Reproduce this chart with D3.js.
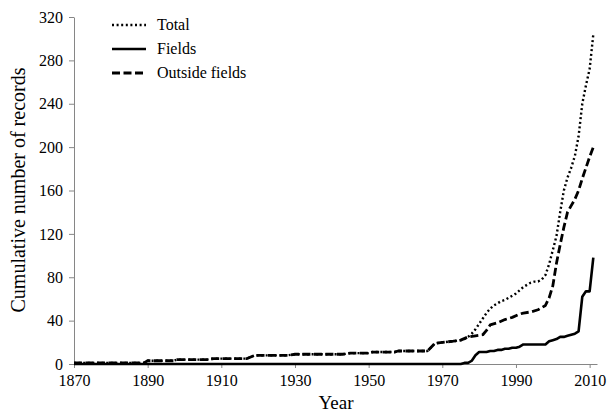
<!DOCTYPE html>
<html>
<head>
<meta charset="utf-8">
<script src="https://d3js.org/d3.v7.min.js"></script>
<style>
body{margin:0;background:#fff;}
text{font-family:"Liberation Serif","Times New Roman",serif;}
</style>
</head>
<body>
<svg width="608" height="414"></svg>
<script>
// cumulative counts, [year, records]
var total = [[1870,1],[1889,1],[1890,3],[1897,3],[1898,4],[1906,4],[1908,5],[1917,5],[1919,8],[1928,8],[1930,9],[1943,9],[1945,10],[1950,10],[1951,11],[1957,11],[1958,12],[1966,12],[1968,19],[1970,20],[1973,21],[1975,22],
  [1976,23],[1977,25],[1978,28],[1979,32],[1980,37],[1981,42],[1982,47],[1983,51],[1984,54],[1985,56],[1986,58],[1987,59],[1988,61],[1989,63],[1990,65],[1991,68],[1992,71],[1993,73],[1994,75],[1995,76],[1996,76],[1997,78],[1998,82],[1999,92],[2000,105],[2001,118],[2002,140],[2003,160],[2004,172],[2005,181],[2006,192],[2007,210],[2008,240],[2009,257],[2010,272],[2011,304]];
var fields = [[1870,0],[1975,0],[1976,1],[1977,1],[1978,3],[1979,8],[1980,11],[1982,11],[1983,12],[1984,12],[1985,13],[1986,13],[1987,14],[1988,14],[1989,15],[1990,15],[1991,16],[1992,18],[1998,18],[1999,21],[2000,22],[2001,23],[2002,25],[2003,25],[2004,26],[2005,27],[2006,28],[2007,30],[2008,62],[2009,67],[2010,67],[2011,98]];
var outside = [[1870,1],[1889,1],[1890,3],[1897,3],[1898,4],[1906,4],[1908,5],[1917,5],[1919,8],[1928,8],[1930,9],[1943,9],[1945,10],[1950,10],[1951,11],[1957,11],[1958,12],[1966,12],[1968,19],[1970,20],[1973,21],[1975,22],
  [1977,25],[1979,26],[1981,27],[1982,31],[1983,36],[1985,38],[1987,41],[1989,43],[1991,46],[1992,47],[1994,48],[1996,50],[1998,54],[1999,61],[2000,72],[2001,93],[2002,110],[2003,126],[2004,140],[2005,146],[2006,152],[2007,160],[2008,171],[2009,181],[2010,191],[2011,200]];
var xTicks = [1870,1890,1910,1930,1950,1970,1990,2010];
var yTicks = [0,40,80,120,160,200,240,280,320];
var legendNames = ["Total","Fields","Outside fields"];

var serif = "'Liberation Serif','Times New Roman',serif";
var svg = d3.select("svg");
var x = d3.scaleLinear().domain([1870,2012]).range([74,597]);
var y = d3.scaleLinear().domain([0,320]).range([364,17]);

// axes
var gx = svg.append("g")
  .attr("transform","translate(0,364)")
  .call(d3.axisBottom(x).tickValues(xTicks).tickFormat(d3.format("d")).tickSize(4).tickSizeOuter(0).tickPadding(7));
var gy = svg.append("g")
  .attr("transform","translate(74,0)")
  .call(d3.axisLeft(y).tickValues(yTicks).tickSize(5).tickSizeOuter(0).tickPadding(6));
gx.attr("font-family", serif).attr("font-size", 16);
gy.attr("font-family", serif).attr("font-size", 16);
svg.selectAll(".domain, .tick line").attr("stroke","#868686");
svg.selectAll(".tick text").attr("fill","#000");

var line = d3.line().x(function(d){return x(d[0]);}).y(function(d){return y(d[1]);});

var styles = [
  {data:total, dash:"2,2.6", w:2.4},
  {data:fields, dash:null, w:2.6},
  {data:outside, dash:"8,3.5", w:2.8}
];
// outside first, then total, fields on top
[2,0,1].forEach(function(i){
  var s = styles[i];
  svg.append("path")
    .attr("d", line(s.data))
    .attr("fill","none")
    .attr("stroke","#000")
    .attr("stroke-width", s.w)
    .attr("stroke-linejoin","round")
    .attr("stroke-dasharray", s.dash);
});

// legend
for(let i=0; i<legendNames.length; i++){
  var ly = 25 + i*24;
  svg.append("line")
    .attr("x1",112).attr("x2",146)
    .attr("y1",ly).attr("y2",ly)
    .attr("stroke","#000")
    .attr("stroke-width",styles[i].w)
    .attr("stroke-dasharray",styles[i].dash);
  svg.append("text")
    .attr("x",157)
    .attr("y",ly+5)
    .attr("font-family",serif)
    .attr("font-size",16)
    .text(legendNames[i]);
}

// axis titles
svg.append("text")
  .attr("x",336)
  .attr("y",409)
  .attr("text-anchor","middle")
  .attr("font-family",serif)
  .attr("font-size",19)
  .text("Year");
svg.append("text")
  .attr("transform","translate(25,190) rotate(-90)")
  .attr("text-anchor","middle")
  .attr("font-family",serif)
  .attr("font-size",20)
  .text("Cumulative number of records");
</script>
</body>
</html>
